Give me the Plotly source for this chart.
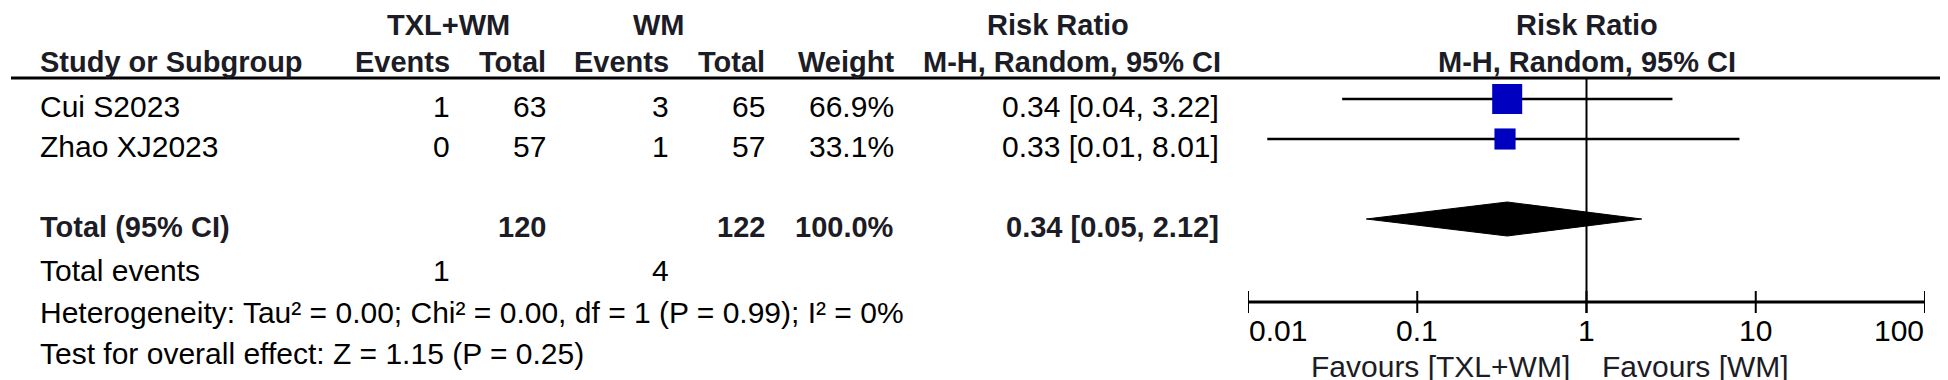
import math
import plotly.graph_objects as go

W, H = 1948, 380

# ---------------- data ----------------
studies = ["Cui S2023", "Zhao XJ2023"]
txl_events = [1, 0]
txl_total = [63, 57]
wm_events = [3, 1]
wm_total = [65, 57]
weights = [66.9, 33.1]
rr = [0.34, 0.33]
ci_low = [0.036, 0.013]
ci_high = [3.22, 8.01]

total_label = "Total (95% CI)"
total_txl = 120
total_wm = 122
total_weight = 100.0
total_rr = 0.34
total_low = 0.05
total_high = 2.12
total_events_label = "Total events"
total_events_txl = 1
total_events_wm = 4
heterogeneity = "Heterogeneity: Tau² = 0.00; Chi² = 0.00, df = 1 (P = 0.99); I² = 0%"
overall = "Test for overall effect: Z = 1.15 (P = 0.25)"

tick_vals = [0.01, 0.1, 1, 10, 100]
tick_text = ["0.01", "0.1", "1", "10", "100"]
favours_left = "Favours [TXL+WM]"
favours_right = "Favours [WM]"

# ---------------- layout constants ----------------
FONT = "Liberation Sans, Arial, sans-serif"
FS = 30        # regular text
FSB = 29       # bold text
TXT = "#000000"
HDR = "#1c1c26"
BLUE = "#0000C0"

X_LEFT = 31
COL_EV1, COL_TOT1, COL_EV2, COL_TOT2, COL_WT, COL_RR = 443, 539, 662, 758, 887, 1212

Y_H1, Y_H2, Y_RULE = 17, 54, 70
ROW_MARK = [91, 131]
TXT_OFF = 7.5
Y_TOTAL_MARK = 211
Y_TEV, Y_HET, Y_TEST = 262, 304, 345
Y_AXIS, TICK_HALF = 294, 11
Y_TICKLAB, Y_FAV = 322, 358
DIAMOND_HALF = 17

fig = go.Figure()
ann = []


def t(x, y, text, anchor="left", bold=False, color=TXT, xref="paper", xshift=0):
    ann.append(dict(
        x=x / W if xref == "paper" else x, y=y, xref=xref, yref="y",
        text=f"<b>{text}</b>" if bold else text,
        showarrow=False, xanchor=anchor, yanchor="middle", xshift=xshift, borderpad=0,
        font=dict(family=FONT, size=FSB if bold else FS, color=color),
    ))


fmt = lambda v: f"{v:.2f}"

# headers
t(440, Y_H1, "TXL+WM", "center", True, HDR)
t(651, Y_H1, "WM", "center", True, HDR)
t(1050, Y_H1, "Risk Ratio", "center", True, HDR)
t(X_LEFT, Y_H2, "Study or Subgroup", "left", True, HDR)
t(COL_EV1, Y_H2, "Events", "right", True, HDR)
t(COL_TOT1, Y_H2, "Total", "right", True, HDR)
t(COL_EV2, Y_H2, "Events", "right", True, HDR)
t(COL_TOT2, Y_H2, "Total", "right", True, HDR)
t(COL_WT, Y_H2, "Weight", "right", True, HDR)
t(COL_RR + 2, Y_H2, "M-H, Random, 95% CI", "right", True, HDR)
# right panel headers centred on RR = 1
t(math.log10(1), Y_H1, "Risk Ratio", "center", True, HDR, xref="x")
t(math.log10(1), Y_H2, "M-H, Random, 95% CI", "center", True, HDR, xref="x")

# study rows
for i, s in enumerate(studies):
    y = ROW_MARK[i] + TXT_OFF
    t(X_LEFT, y, s)
    t(COL_EV1, y, str(txl_events[i]), "right")
    t(COL_TOT1, y, str(txl_total[i]), "right")
    t(COL_EV2, y, str(wm_events[i]), "right")
    t(COL_TOT2, y, str(wm_total[i]), "right")
    t(COL_WT, y, f"{weights[i]:.1f}%", "right")
    t(COL_RR, y, f"{fmt(rr[i])} [{fmt(ci_low[i])}, {fmt(ci_high[i])}]", "right")

# total row
yt = Y_TOTAL_MARK + TXT_OFF
t(X_LEFT, yt, total_label, "left", True, HDR)
t(COL_TOT1, yt, str(total_txl), "right", True, HDR)
t(COL_TOT2, yt, str(total_wm), "right", True, HDR)
t(COL_WT, yt, f"{total_weight:.1f}%", "right", True, HDR)
t(COL_RR, yt, f"{fmt(total_rr)} [{fmt(total_low)}, {fmt(total_high)}]", "right", True, HDR)

t(X_LEFT, Y_TEV, total_events_label)
t(COL_EV1, Y_TEV, str(total_events_txl), "right")
t(COL_EV2, Y_TEV, str(total_events_wm), "right")
t(X_LEFT, Y_HET, heterogeneity)
t(X_LEFT, Y_TEST, overall)

# tick labels
anchors = ["left", "center", "center", "center", "right"]
for v, lab, a in zip(tick_vals, tick_text, anchors):
    t(math.log10(v), Y_TICKLAB, lab, a, xref="x")

# favours
t(0, Y_FAV, favours_left, "right", color=HDR, xref="x", xshift=-16)
t(0, Y_FAV, favours_right, "left", color=HDR, xref="x", xshift=14)

# ---------------- marks ----------------
# null line at RR = 1
fig.add_trace(go.Scatter(x=[1, 1], y=[Y_RULE, Y_AXIS + TICK_HALF], mode="lines",
                         line=dict(color="black", width=2), hoverinfo="skip"))
# CI lines
for i in range(len(studies)):
    fig.add_trace(go.Scatter(x=[ci_low[i], ci_high[i]], y=[ROW_MARK[i]] * 2, mode="lines",
                             line=dict(color="black", width=2.5), hoverinfo="skip"))
# weight squares
fig.add_trace(go.Scatter(
    x=rr, y=ROW_MARK, mode="markers",
    marker=dict(symbol="square", color=BLUE, opacity=1,
                size=[3.67 * math.sqrt(w) for w in weights], line=dict(width=0)),
    hoverinfo="skip"))
# diamond
fig.add_trace(go.Scatter(
    x=[total_low, total_rr, total_high, total_rr, total_low],
    y=[Y_TOTAL_MARK, Y_TOTAL_MARK - DIAMOND_HALF, Y_TOTAL_MARK, Y_TOTAL_MARK + DIAMOND_HALF, Y_TOTAL_MARK],
    mode="lines", fill="toself", fillcolor="black", line=dict(color="black", width=1),
    hoverinfo="skip"))
# axis line and ticks
fig.add_trace(go.Scatter(x=[tick_vals[0], tick_vals[-1]], y=[Y_AXIS, Y_AXIS], mode="lines",
                         line=dict(color="black", width=3), hoverinfo="skip"))
for v in tick_vals:
    fig.add_trace(go.Scatter(x=[v, v], y=[Y_AXIS - TICK_HALF, Y_AXIS + TICK_HALF], mode="lines",
                             line=dict(color="black", width=2), hoverinfo="skip"))

shapes = [dict(type="line", xref="paper", yref="y", x0=3 / W, x1=1945 / W,
               y0=Y_RULE, y1=Y_RULE, line=dict(color="black", width=3))]

fig.update_layout(
    width=W, height=H, margin=dict(l=0, r=0, t=0, b=0),
    paper_bgcolor="white", plot_bgcolor="white", showlegend=False,
    xaxis=dict(type="log", range=[-2, 2], domain=[1240 / W, 1917 / W], visible=False, fixedrange=True),
    yaxis=dict(range=[H, 0], domain=[0, 1], visible=False, fixedrange=True),
    annotations=ann, shapes=shapes,
)

fig.write_html("out.html")
